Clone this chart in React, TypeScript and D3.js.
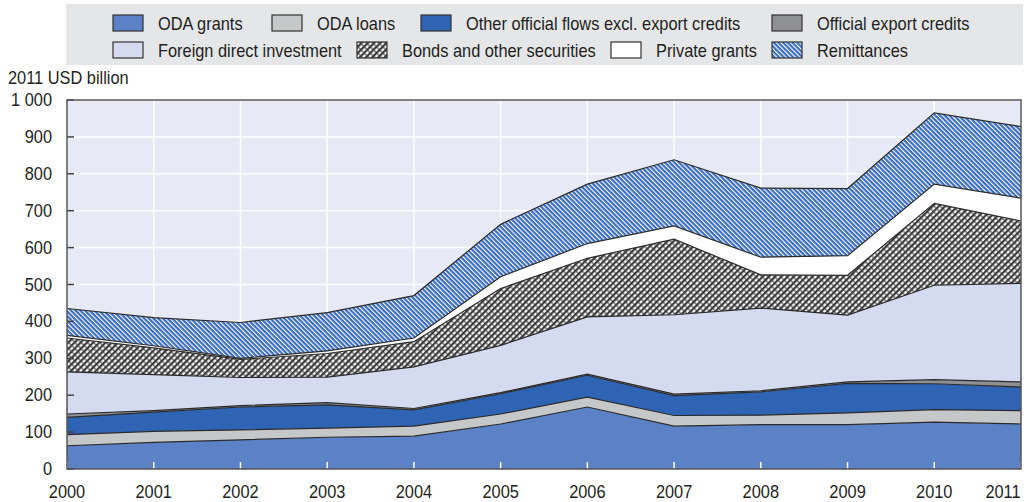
import React from "react";
import * as d3 from "d3";

const years = [2000, 2001, 2002, 2003, 2004, 2005, 2006, 2007, 2008, 2009, 2010, 2011];
const odaGrants = [63, 72, 79, 86, 89, 122, 168, 116, 120, 120, 127, 122];
const odaLoans = [30, 30, 27, 25, 27, 27, 27, 29, 26, 32, 34, 36];
const otherOfficial = [47, 52, 62, 63, 44, 55, 59, 54, 63, 80, 70, 64];
const exportCredits = [9, 4, 4, 6, 4, 3, 3, 4, 3, 4, 11, 14];
const fdi = [114, 98, 76, 69, 113, 128, 155, 215, 224, 181, 256, 267];
const bonds = [92, 72, 49, 64, 68, 154, 159, 205, 90, 108, 222, 169];
const privateGrants = [7, 6, 3, 7, 10, 32, 40, 36, 48, 53, 52, 62];
const remittances = [73, 76, 97, 104, 115, 142, 161, 179, 187, 182, 193, 194];

const seriesNames = [
  "ODA grants",
  "ODA loans",
  "Other official flows excl. export credits",
  "Official export credits",
  "Foreign direct investment",
  "Bonds and other securities",
  "Private grants",
  "Remittances",
];
const yTicks = [0, 100, 200, 300, 400, 500, 600, 700, 800, 900, 1000];
const yTickLabels = ["0", "100", "200", "300", "400", "500", "600", "700", "800", "900", "1 000"];
const yTitle = "2011 USD billion";

const fills = [
  "#5b81c6",
  "#c5c7c9",
  "#2f64b5",
  "#8e9093",
  "#d4daef",
  "url(#bondsPat)",
  "#ffffff",
  "url(#remitPat)",
];
// legend layout: [swatchX, row]
const legendLayout: [number, number][] = [
  [113, 0],
  [272, 0],
  [421, 0],
  [772, 0],
  [113, 1],
  [357, 1],
  [611, 1],
  [772, 1],
];

const W = 1027;
const H = 502;
const L = 67, R = 1021, T = 100, B = 469;
const FONT = "'Liberation Sans Narrow', 'Arial Narrow', 'Liberation Sans', Arial, sans-serif";
const TXT = "#231f20";
const SX = 0.91;

function T2({ x, y, anchor = "start", size = 18, children }: any) {
  return (
    <text
      transform={`translate(${x},${y}) scale(${SX},1)`}
      fontSize={size}
      textAnchor={anchor}
      fill={TXT}
    >
      {children}
    </text>
  );
}

export default function App() {
  const series = [odaGrants, odaLoans, otherOfficial, exportCredits, fdi, bonds, privateGrants, remittances];
  const rows = years.map((y, i) => {
    const r: any = { year: y };
    seriesNames.forEach((n, k) => (r[n] = series[k][i]));
    return r;
  });
  const stacked = d3.stack().keys(seriesNames)(rows);
  const x = d3.scaleLinear().domain([2000, 2011]).range([L, R]);
  const y = d3.scaleLinear().domain([0, 1000]).range([B, T]);
  const area = d3
    .area<any>()
    .x((d) => x(d.data.year))
    .y0((d) => y(d[0]))
    .y1((d) => y(d[1]));
  const topLine = d3
    .line<any>()
    .x((d) => x(d.data.year))
    .y((d) => y(d[1]));

  return (
    <svg
      width={W}
      height={H}
      style={{ position: "absolute", left: 0, top: 0, display: "block" }}
      fontFamily={FONT}
    >
      <defs>
        <pattern id="remitPat" patternUnits="userSpaceOnUse" width="3.3" height="10" patternTransform="rotate(-45)">
          <rect width="3.3" height="10" fill="#3b6cc0" />
          <rect x="0" y="0" width="1.1" height="10" fill="#ffffff" />
        </pattern>
        <pattern id="bondsPat" patternUnits="userSpaceOnUse" width="4.4" height="4.4" patternTransform="rotate(45)">
          <rect width="4.4" height="4.4" fill="#3a3a3a" />
          <rect x="1.2" y="0.5" width="2.2" height="3.4" fill="#ffffff" />
        </pattern>
      </defs>

      {/* legend */}
      <rect x={66} y={4} width={957} height={61} fill="#e5e6e8" />
      {seriesNames.map((n, i) => {
        const [sx, row] = legendLayout[i];
        const sy = row === 0 ? 15 : 42;
        return (
          <g key={n}>
            <rect x={sx} y={sy} width={30} height={16} fill={fills[i]} stroke="#333" strokeWidth={1.2} />
            <T2 x={sx + 45} y={sy + 15}>
              {n}
            </T2>
          </g>
        );
      })}

      {/* y title */}
      <T2 x={8} y={84} size={18}>
        {yTitle}
      </T2>

      {/* plot background */}
      <rect x={L} y={T} width={R - L} height={B - T} fill="#e7e9f5" />
      {yTicks.map((t) => (
        <line key={"gy" + t} x1={L} x2={R} y1={y(t)} y2={y(t)} stroke="#fff" strokeWidth={1.5} />
      ))}
      {years.map((yr) => (
        <line key={"gx" + yr} x1={x(yr)} x2={x(yr)} y1={T} y2={B} stroke="#fff" strokeWidth={1.5} />
      ))}

      {/* areas */}
      {stacked.map((s, i) => (
        <path key={"a" + i} d={area(s as any) || ""} fill={fills[i]} />
      ))}
      {stacked.map((s, i) => (
        <path key={"l" + i} d={topLine(s as any) || ""} fill="none" stroke="#2b2b2b" strokeWidth={1.2} />
      ))}

      {/* x ticks (white, inside) */}
      {years.map((yr) => (
        <line key={"tx" + yr} x1={x(yr)} x2={x(yr)} y1={B - 7} y2={B} stroke="#fff" strokeWidth={1.5} />
      ))}
      {/* y ticks */}
      {yTicks.map((t) => (
        <line key={"ty" + t} x1={L} x2={L + 7} y1={y(t)} y2={y(t)} stroke="#444" strokeWidth={1.5} />
      ))}

      {/* frame */}
      <rect x={L} y={T} width={R - L} height={B - T} fill="none" stroke="#555" strokeWidth={1.5} />

      {/* y labels */}
      {yTicks.map((t, i) => (
        <T2 key={"yl" + t} x={52} y={y(t) + 6} anchor="end">
          {yTickLabels[i]}
        </T2>
      ))}
      {/* x labels */}
      {years.map((yr, i) => (
        <T2 key={"xl" + yr} x={i === years.length - 1 ? x(yr) - 18 : x(yr)} y={498} anchor="middle">
          {String(yr)}
        </T2>
      ))}
    </svg>
  );
}
